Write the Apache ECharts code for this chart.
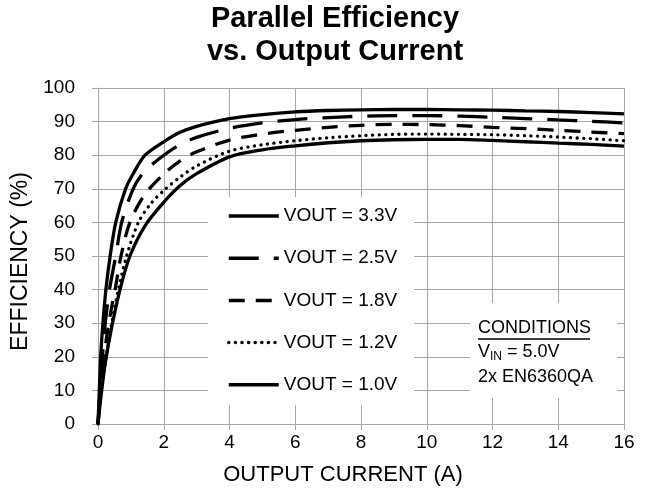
<!DOCTYPE html>
<html>
<head>
<meta charset="utf-8">
<script src="https://cdn.jsdelivr.net/npm/echarts@6/dist/echarts.min.js"></script>
<style>
html,body{margin:0;padding:0;background:#fff;}
#chart{width:653px;height:499px;}
</style>
</head>
<body>
<div id="chart"></div>
<script>
// ---- data (x = output current A, y = efficiency %) ----
const seriesNames = ['VOUT = 3.3V', 'VOUT = 2.5V', 'VOUT = 1.8V', 'VOUT = 1.2V', 'VOUT = 1.0V'];
const v33 = [[0,0],[0.04,10],[0.08,20],[0.15,30],[0.24,40],[0.37,50],[0.54,60],[0.84,70],[1.1,75],[1.43,80],[2,84],[2.5,86.8],[3,88.6],[4,90.9],[5,92.1],[6,92.9],[7,93.3],[8,93.5],[9,93.6],[10,93.6],[11,93.5],[12,93.4],[13,93.2],[14,93],[15,92.7],[16,92.3]];
const v25 = [[0,0],[0.1,15],[0.2,28],[0.35,40],[0.54,50],[0.72,60],[1.07,70],[1.4,75],[2,80],[2.5,83.2],[3,85.3],[4,88],[5,89.6],[6,90.6],[7,91.2],[8,91.6],[9,91.8],[10,91.8],[11,91.6],[12,91.3],[13,90.9],[14,90.5],[15,90.1],[16,89.6]];
const v18 = [[0,0],[0.1,12],[0.25,25],[0.4,34],[0.52,40],[0.7,50],[0.97,60],[1.4,68],[2,74.4],[2.5,78.3],[3,81],[4,84.5],[5,86.3],[6,87.4],[7,88.3],[8,88.9],[9,89.2],[10,89.1],[11,88.8],[12,88.3],[13,87.9],[14,87.4],[15,86.9],[16,86.4]];
const v12 = [[0,0],[0.1,10],[0.25,20],[0.4,29],[0.62,40],[0.87,50],[1.23,60],[1.6,65.5],[2,69.5],[2.5,73.5],[3,76.8],[4,81.2],[5,83.1],[6,84.3],[7,85.2],[8,85.8],[9,86.2],[10,86.3],[11,86.2],[12,86.1],[13,85.8],[14,85.4],[15,84.9],[16,84.3]];
const v10 = [[0,0],[0.1,9],[0.22,18],[0.4,28],[0.67,40],[0.97,50],[1.43,59],[2,66],[2.5,71],[3,74.5],[4,79.5],[5,81.6],[6,82.8],[7,83.7],[8,84.3],[9,84.6],[10,84.7],[11,84.7],[12,84.4],[13,84],[14,83.6],[15,83.2],[16,82.7]];
const xTicks = {min: 0, max: 16, interval: 2};
const yTicks = {min: 0, max: 100, interval: 10};

const FONT = '"Liberation Sans", Arial, sans-serif';
const GRID = '#a6a6a6';

const dashStyles = [
  {type: 'solid'},
  {type: [30, 15]},
  {type: [16, 11]},
  {type: [0.1, 6.5], cap: 'round'},
  {type: 'solid'}
];
const allData = [v33, v25, v18, v12, v10];

const chart = echarts.init(document.getElementById('chart'), null, {renderer: 'canvas'});
chart.setOption({
  animation: false,
  backgroundColor: '#fff',
  title: {
    text: 'Parallel Efficiency\nvs. Output Current',
    left: 335, top: 2, padding: 0, textAlign: 'center',
    textStyle: {fontFamily: FONT, fontSize: 29, fontWeight: 'bold', color: '#000', lineHeight: 33}
  },
  grid: {left: 98, right: 29, top: 88, bottom: 75, containLabel: false},
  legend: {
    orient: 'vertical', left: 208, top: 197,
    padding: [9, 17, 10, 19],
    backgroundColor: '#fff',
    itemWidth: 50, itemHeight: 20, itemGap: 22.2,
    selectedMode: false,
    data: seriesNames,
    itemStyle: {opacity: 0},
    lineStyle: {width: 3.5},
    textStyle: {fontFamily: FONT, fontSize: 19, color: '#000', lineHeight: 20}
  },
  xAxis: {
    type: 'value', min: xTicks.min, max: xTicks.max, interval: xTicks.interval,
    name: 'OUTPUT CURRENT (A)', nameLocation: 'middle', nameGap: 40,
    nameTextStyle: {fontFamily: FONT, fontSize: 22, color: '#000', padding: [0, 36, 0, 0]},
    axisLine: {show: true, lineStyle: {color: GRID, width: 1}},
    axisTick: {show: true, inside: false, length: 6, lineStyle: {color: GRID}},
    axisLabel: {fontFamily: FONT, fontSize: 19, color: '#000', margin: 9},
    splitLine: {show: true, lineStyle: {color: GRID, width: 1}}
  },
  yAxis: {
    type: 'value', min: yTicks.min, max: yTicks.max, interval: yTicks.interval,
    name: 'EFFICIENCY (%)', nameLocation: 'middle', nameGap: 63,
    nameTextStyle: {fontFamily: FONT, fontSize: 23, color: '#000', padding: [0, 11, 0, 0]},
    axisLine: {show: true, lineStyle: {color: GRID, width: 1}},
    axisTick: {show: true, inside: false, length: 6, lineStyle: {color: GRID}},
    axisLabel: {fontFamily: FONT, fontSize: 19, color: '#000', margin: 23},
    splitLine: {show: true, lineStyle: {color: GRID, width: 1}}
  },
  graphic: [{
    type: 'group', left: 470, top: 303, z: 100,
    children: [
      {type: 'rect', z: 100, shape: {x: 0, y: 0, width: 147, height: 95}, style: {fill: '#ffffff', stroke: null}},
      {type: 'text', z: 101, x: 8, y: 25, style: {text: 'CONDITIONS', font: '18px ' + FONT, fill: '#000', verticalAlign: 'middle'}},
      {type: 'line', z: 101, shape: {x1: 8, y1: 36, x2: 120, y2: 36}, style: {stroke: '#000', lineWidth: 1.5}},
      {type: 'text', z: 101, x: 8, y: 49, style: {
        text: '{a|V}{s|IN}{a| = 5.0V}', verticalAlign: 'middle',
        rich: {a: {font: '18px ' + FONT, fill: '#000', color: '#000'}, s: {font: '12px ' + FONT, color: '#000', padding: [10, 0, 0, 0]}}
      }},
      {type: 'text', z: 101, x: 8, y: 74, style: {text: '2x EN6360QA', font: '18px ' + FONT, fill: '#000', verticalAlign: 'middle'}}
    ]
  }],
  series: allData.map((d, i) => ({
    name: seriesNames[i],
    type: 'line',
    data: d,
    smooth: 0.3,
    symbol: 'none',
    showSymbol: false,
    lineStyle: Object.assign({color: '#000', width: 3.3}, dashStyles[i]),
    itemStyle: {color: '#000'},
    z: 3
  }))
});
</script>
</body>
</html>
